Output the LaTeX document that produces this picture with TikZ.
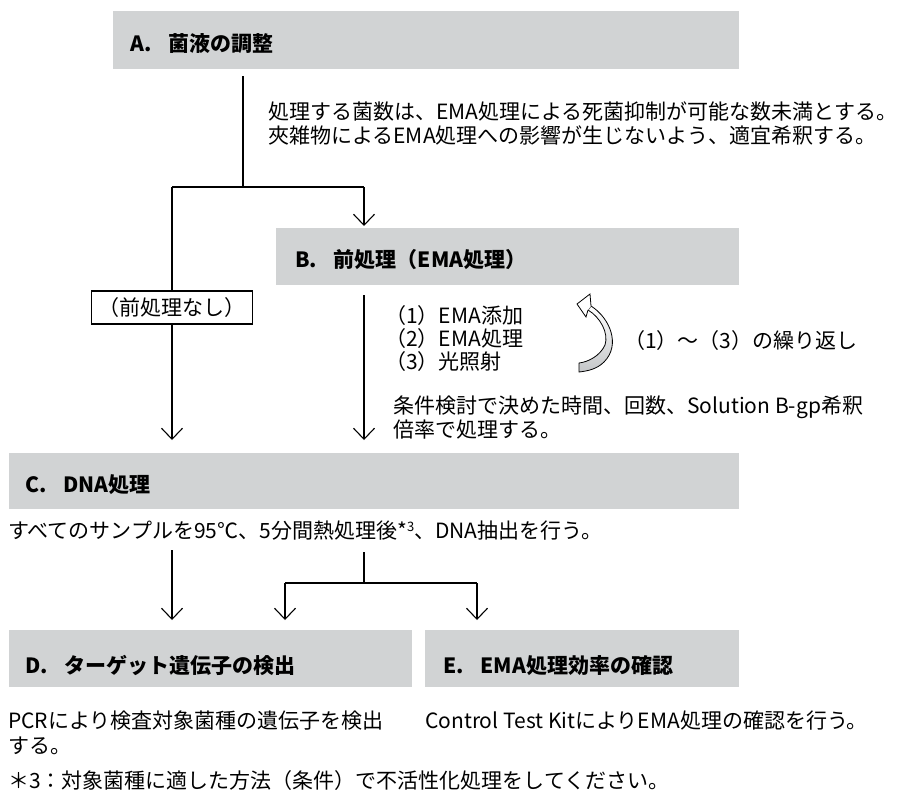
\documentclass[tikz,border=0pt]{standalone}
\usepackage{fontspec}
\setmainfont{Noto Sans CJK JP}
\usetikzlibrary{arrows.meta}
\definecolor{boxgray}{RGB}{209,211,212}
\definecolor{arrgray}{RGB}{196,198,200}
\tikzset{
  hdr/.style={fill=boxgray, draw=none, inner sep=0pt, anchor=north west},
  hdrtext/.style={font=\fontsize{21}{24}\selectfont\bfseries, anchor=base west, inner sep=0pt},
  body/.style={font=\fontsize{21}{24}\selectfont, anchor=base west, inner sep=0pt},
  conn/.style={line width=1.1pt},
  arr/.style={conn, -{Straight Barb[length=11pt,width=21pt]}},
}
\begin{document}
\begin{tikzpicture}[x=1pt,y=-1pt]
\useasboundingbox (0,0) rectangle (897,793);
% header boxes
\node[hdr, minimum width=626pt, minimum height=58pt] (A) at (113,11) {};
\node[hdr, minimum width=463pt, minimum height=57pt] (B) at (276,228) {};
\node[hdr, minimum width=730pt, minimum height=56pt] (C) at (9,453) {};
\node[hdr, minimum width=403pt, minimum height=57pt] (D) at (9,630) {};
\node[hdr, minimum width=314pt, minimum height=57pt] (E) at (425,630) {};
% header labels
\node[hdrtext] (Alab) at (130,51) {A.\hspace{0.8em}菌液の調整};
\node[hdrtext] (Blab) at (295,267) {B.\hspace{0.8em}前処理（EMA処理）};
\node[hdrtext] (Clab) at (25,492) {C.\hspace{0.8em}DNA処理};
\node[hdrtext] (Dlab) at (25,673) {D.\hspace{0.8em}ターゲット遺伝子の検出};
\node[hdrtext] (Elab) at (443,673) {E.\hspace{0.8em}EMA処理効率の確認};
% body texts
\node[body] (t1) at (268,119) {処理する菌数は、EMA処理による死菌抑制が可能な数未満とする。};
\node[body] (t2) at (268,143) {夾雑物によるEMA処理への影響が生じないよう、適宜希釈する。};
\node[body] (l1) at (385,323) {（1）EMA添加};
\node[body] (l2) at (385,346) {（2）EMA処理};
\node[body] (l3) at (385,369) {（3）光照射};
\node[body] (rep) at (624,348) {（1）～（3）の繰り返し};
\node[body] (k1) at (393,413) {条件検討で決めた時間、回数、Solution B-gp希釈};
\node[body] (k2) at (393,437) {倍率で処理する。};
\node[body] (ctext) at (8,538) {すべてのサンプルを95℃、5分間熱処理後*\raisebox{0.3em}{\fontsize{13}{13}\selectfont 3}、DNA抽出を行う。};
\node[body] (p1) at (8,728) {PCRにより検査対象菌種の遺伝子を検出};
\node[body] (p2) at (8,753) {する。};
\node[body] (ct) at (425,728) {Control Test KitによりEMA処理の確認を行う。};
\node[body] (fn) at (8,788) {＊3：対象菌種に適した方法（条件）で不活性化処理をしてください。};
% no-pretreatment box
\node[draw, line width=1.1pt, minimum width=161pt, minimum height=33pt, inner sep=0pt,
      font=\fontsize{21}{24}\selectfont] (nashi) at (172,307.5) {（前処理なし）};
% coordinates
\coordinate (a1) at (243,76);
\coordinate (br) at (243,187);
\coordinate (brL) at (172,187);
\coordinate (brR) at (364,187);
\coordinate (bTip) at (364,226);
\coordinate (b1) at (364,295);
\coordinate (cTipL) at (172,440);
\coordinate (cTipR) at (364,440);
\coordinate (c1) at (172,550);
\coordinate (dTipL) at (172,620);
\coordinate (c2) at (364,552);
\coordinate (c3) at (364,583);
\coordinate (c3L) at (285,583);
\coordinate (c3R) at (477,583);
\coordinate (dTipM) at (285,620);
\coordinate (eTip) at (477,620);
% connectors
\draw[conn] (a1) -- (br);
\draw[conn] (brL) -- (brR);
\draw[arr] (brR) -- (bTip);
\draw[conn] (brL) -- (nashi.north);
\draw[arr] (nashi.south) -- (cTipL);
\draw[arr] (b1) -- (cTipR);
\draw[arr] (c1) -- (dTipL);
\draw[conn] (c2) -- (c3);
\draw[conn] (c3L) -- (c3R);
\draw[arr] (c3L) -- (dTipM);
\draw[arr] (c3R) -- (eTip);
% curved repeat arrow
\shade[top color=white, bottom color=arrgray, draw=black, line width=0.8pt, line join=round]
  (591,306) .. controls (610,318) and (621,345) .. (604,362)
  .. controls (597,369) and (588,371) .. (579,372)
  -- (579,363)
  .. controls (588,362) and (600,356) .. (605,345)
  .. controls (609,333) and (600,317) .. (588,310) -- cycle;
\draw[fill=white, line width=0.8pt, line join=miter]
  (591,306) -- (590,294) -- (577,304) -- (586,317) -- (588,310);
\end{tikzpicture}
\end{document}
